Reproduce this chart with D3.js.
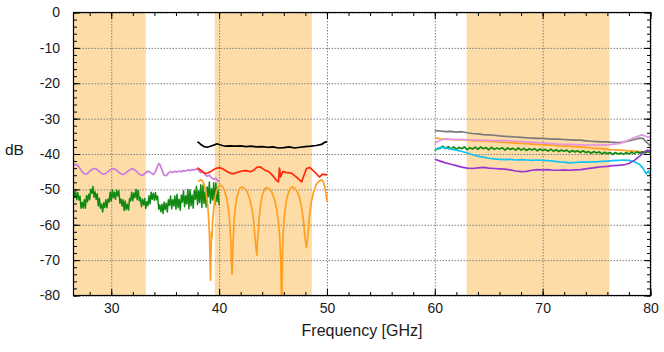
<!DOCTYPE html>
<html>
<head>
<meta charset="utf-8">
<script src="https://cdn.jsdelivr.net/npm/d3@7"></script>
<style>
body { margin: 0; background: #fff; }
svg { font-family: "Liberation Sans", Arial, sans-serif; }
</style>
</head>
<body>
<svg id="chart" width="664" height="352"></svg>
<script>
// axis ticks
var xTicks = [30, 40, 50, 60, 70, 80];
var yTicks = [0, -10, -20, -30, -40, -50, -60, -70, -80];
var xMinor = d3.range(28, 81, 2);
var yMinor = d3.range(-80, 1, 2);

// shaded frequency bands [GHz]
var bands = [[26.5, 33.2], [39.6, 48.6], [62.95, 76.2]];

// 26.5 - 40 GHz
var violetLow = [[26.5,-43.3],[26.7,-42.9],[26.9,-43.2],[27.1,-44.1],[27.3,-45.0],[27.5,-45.6],[27.7,-45.7],[27.9,-45.2],
  [28.1,-44.6],[28.3,-44.2],[28.5,-44.1],[28.7,-44.4],[28.9,-45.0],[29.1,-45.5],[29.3,-45.7],[29.5,-45.5],[29.7,-45.0],
  [29.9,-44.5],[30.1,-44.2],[30.3,-44.2],[30.5,-44.6],[30.7,-45.1],[30.9,-45.6],[31.1,-45.8],[31.3,-45.5],[31.5,-45.0],
  [31.7,-44.5],[31.9,-44.2],[32.1,-44.3],[32.3,-44.8],[32.5,-45.4],[32.7,-45.9],[32.9,-46.0],[33.1,-45.6],[33.3,-45.0],
  [33.5,-44.9],[33.7,-45.4],[33.9,-45.8],[34.1,-45.0],[34.3,-43.4],[34.4,-42.7],[34.5,-42.9],[34.7,-44.5],[34.9,-46.0],
  [35.1,-46.1],[35.3,-45.4],[35.5,-45.0],[35.7,-45.2],[35.9,-44.9],[36.1,-45.1],[36.3,-44.8],[36.5,-45.0],[36.7,-44.7],
  [36.9,-44.8],[37.1,-44.5],[37.3,-44.7],[37.5,-44.4],[37.7,-44.5],[37.9,-44.2],[38.1,-44.6],[38.3,-45.3],[38.5,-45.0],
  [38.7,-45.8],[38.9,-46.3],[39.1,-46.0],[39.3,-46.8],[39.5,-47.1],[39.7,-46.9],[39.9,-47.6],[40.0,-48.0]];

var greenLowStart = 26.5, greenLowStep = 0.1;
var greenLowDb = [-50.2,-52.2,-50.6,-52.9,-50.9,-53.0,-51.9,-55.3,-53.7,-55.3,-52.9,-55.3,-51.8,-53.5,-51.4,-52.9,
  -50.0,-51.1,-49.2,-52.2,-50.7,-52.8,-51.2,-54.7,-52.5,-55.3,-54.2,-56.4,-53.8,-55.1,-52.9,-55.2,-52.7,-53.6,
  -50.8,-53.3,-50.2,-52.4,-50.8,-52.8,-50.2,-51.8,-50.4,-53.9,-52.7,-54.7,-52.9,-56.0,-53.3,-55.7,-54.2,-55.8,
  -52.6,-53.3,-50.8,-53.2,-51.0,-52.3,-50.0,-52.9,-50.3,-53.2,-52.3,-54.9,-52.8,-54.4,-52.6,-55.4,-53.5,-54.6,
  -51.8,-54.1,-50.8,-52.8,-51.1,-53.1,-50.9,-52.9,-51.9,-55.6,-54.4,-56.3,-54.2,-56.8,-53.6,-55.7,-53.9,-56.4,
  -52.9,-54.5,-51.9,-55.5,-52.9,-54.7,-51.9,-55.6,-51.4,-55.2,-52.8,-55.9,-51.6,-53.6,-50.4,-54.9,-51.8,-54.1,
  -50.0,-55.5,-50.1,-54.6,-51.6,-55.3,-50.3,-52.8,-49.1,-54.3,-50.4,-53.7,-48.7,-55.1,-48.8,-54.0,-50.7,-55.0,
  -49.3,-52.1,-47.9,-53.9,-49.8,-53.0,-48.1,-54.4,-48.2,-53.4,-50.1,-54.5];

// 38 - 50 GHz
var blackMid = [[38.0,-36.5],[38.3,-37.3],[38.6,-37.9],[38.9,-38.1],[39.2,-37.8],[39.5,-37.5],[39.8,-37.1],[40.0,-37.3],
  [40.3,-37.6],[40.6,-37.8],[41.0,-37.7],[41.5,-37.8],[42.0,-37.7],[42.5,-37.9],[43.0,-37.8],[43.5,-38.0],[44.0,-37.9],
  [44.5,-38.1],[45.0,-38.0],[45.5,-38.3],[46.0,-38.2],[46.5,-38.0],[47.0,-38.3],[47.5,-38.1],[48.0,-37.9],[48.5,-37.8],
  [49.0,-37.6],[49.5,-37.3],[49.8,-36.7],[50.0,-36.5]];

var redMid = [[38.0,-43.9],[38.3,-44.6],[38.7,-45.5],[39.0,-45.3],[39.3,-44.8],[39.6,-44.2],[39.9,-43.9],[40.1,-43.9],
  [40.4,-44.3],[40.7,-44.9],[41.0,-45.4],[41.3,-45.6],[41.7,-45.2],[42.1,-44.8],[42.5,-44.7],[42.9,-45.0],[43.2,-44.6],
  [43.5,-43.8],[43.8,-43.6],[44.2,-44.5],[44.6,-45.0],[45.0,-46.2],[45.3,-47.4],[45.5,-47.9],[45.6,-44.0],[45.7,-46.5],
  [45.9,-45.0],[46.2,-45.2],[46.7,-45.4],[47.2,-46.6],[47.65,-47.9],[48.1,-44.1],[48.4,-43.8],[48.9,-45.2],[49.3,-46.5],
  [49.6,-45.7],[50.0,-45.9]];

var orangeMid = [[38.05,-47.8],[38.3,-47.3],[38.45,-47.6],[38.6,-48.5],[38.75,-50.3],[38.9,-53.3],[39.0,-56.6],
  [39.1,-62.5],[39.15,-68.5],[39.2,-75.7],[39.25,-68.0],[39.3,-62.0],[39.35,-63.5],[39.4,-59.0],[39.5,-55.5],
  [39.65,-51.8],[39.8,-50.1],[39.95,-49.1],[40.1,-48.8],[40.3,-49.2],[40.5,-50.3],[40.7,-52.5],[40.85,-55.2],
  [40.98,-59.0],[41.08,-64.2],[41.14,-70.2],[41.2,-74.0],[41.25,-70.5],[41.3,-64.5],[41.4,-58.6],[41.5,-55.3],
  [41.65,-52.3],[41.8,-50.6],[41.95,-49.6],[42.1,-49.3],[42.35,-49.7],[42.6,-50.7],[42.85,-52.8],[43.05,-55.6],
  [43.2,-58.9],[43.32,-63.2],[43.42,-66.5],[43.5,-68.6],[43.55,-65.0],[43.62,-62.8],[43.72,-58.0],[43.85,-54.3],
  [44.0,-51.8],[44.15,-50.4],[44.28,-49.7],[44.4,-49.5],[44.65,-49.9],[44.9,-50.9],[45.15,-53.0],[45.35,-55.8],
  [45.5,-59.1],[45.62,-63.4],[45.72,-70.5],[45.8,-86.0],[45.88,-67.3],[45.95,-61.9],[46.05,-57.6],[46.2,-53.9],
  [46.35,-51.7],[46.5,-50.3],[46.65,-49.6],[46.8,-49.3],[47.05,-49.7],[47.3,-51.0],[47.5,-52.9],[47.7,-56.0],
  [47.85,-59.8],[47.97,-64.0],[48.1,-66.5],[48.18,-64.5],[48.28,-61.2],[48.4,-56.9],[48.55,-53.6],[48.75,-50.8],
  [49.0,-48.7],[49.25,-47.7],[49.5,-47.3],[49.65,-47.8],[49.8,-49.3],[49.9,-51.0],[50.0,-53.5]];

// 60 - 80 GHz
var grayHigh = [[60.0,-33.4],[60.5,-33.5],[61.0,-33.7],[61.5,-33.6],[62.0,-33.8],[62.5,-33.7],[63.0,-34.0],[63.5,-34.2],
  [64.0,-34.3],[64.5,-34.5],[65.0,-34.6],[65.5,-34.7],[66.0,-34.9],[66.5,-35.0],[67.0,-35.1],[67.5,-35.2],[68.0,-35.3],
  [68.5,-35.4],[69.0,-35.5],[69.5,-35.6],[70.0,-35.6],[70.5,-35.7],[71.0,-35.8],[71.5,-35.8],[72.0,-35.9],[72.5,-36.0],
  [73.0,-36.1],[73.5,-36.1],[74.0,-36.3],[74.5,-36.4],[75.0,-36.5],[75.5,-36.6],[76.0,-36.6],[76.5,-36.7],[77.0,-36.8],
  [77.5,-36.6],[78.0,-36.3],[78.5,-35.9],[79.0,-35.5],[79.3,-35.6],[79.6,-36.6],[80.0,-37.7]];

var orangeHigh = [[60.0,-35.4],[60.5,-35.7],[61.0,-35.8],[61.5,-35.9],[62.0,-36.0],[62.5,-35.9],[63.0,-36.1],[63.5,-36.2],
  [64.0,-36.3],[64.5,-36.3],[65.0,-36.4],[65.5,-36.5],[66.0,-36.6],[66.5,-36.7],[67.0,-36.8],[67.5,-36.9],[68.0,-37.0],
  [68.5,-37.1],[69.0,-37.2],[69.5,-37.3],[70.0,-37.4],[70.5,-37.4],[71.0,-37.5],[71.5,-37.7],[72.0,-37.8],[72.5,-37.8],
  [73.0,-37.9],[73.5,-38.0],[74.0,-38.1],[74.5,-38.3],[75.0,-38.4],[75.5,-38.5],[76.0,-38.7],[76.5,-38.8],[77.0,-38.9],
  [77.5,-39.0],[78.0,-39.1],[78.5,-39.2],[79.0,-39.3],[79.5,-39.4],[80.0,-39.5]];

var pinkHigh = [[60.0,-37.0],[60.3,-36.4],[60.7,-35.9],[61.2,-35.8],[61.7,-35.9],[62.5,-35.9],[63.5,-36.0],[64.5,-36.1],
  [65.5,-36.2],[66.5,-36.2],[67.5,-36.4],[68.5,-36.6],[69.5,-36.8],[70.5,-37.0],[71.5,-37.2],[72.5,-37.3],[73.5,-37.4],
  [74.5,-37.5],[75.5,-37.5],[76.5,-37.3],[77.2,-37.0],[77.8,-36.3],[78.4,-35.5],[78.9,-34.9],[79.2,-34.6],[79.5,-34.9],
  [79.8,-35.3],[80.0,-35.0]];

var greenHighStart = 60, greenHighStep = 0.25;
var greenHighDb = [-39.1,-38.5,-38.4,-37.8,-38.5,-37.9,-38.6,-38.0,-38.7,-38.1,-38.5,-38.0,-38.8,-38.2,-38.6,-38.1,
  -38.7,-38.0,-38.5,-38.2,-38.8,-38.1,-38.7,-38.3,-38.6,-38.2,-38.9,-38.3,-38.7,-38.4,-38.9,-38.3,-38.9,-38.4,
  -39.0,-38.5,-38.9,-38.5,-39.1,-38.6,-39.0,-38.7,-39.2,-38.6,-39.2,-38.8,-39.3,-38.9,-39.2,-38.9,-39.5,-39.0,
  -39.4,-39.1,-39.6,-39.1,-39.6,-39.3,-39.8,-39.3,-39.7,-39.4,-40.0,-39.5,-39.9,-39.6,-40.1,-39.6,-40.0,-39.7,
  -40.1,-39.6,-40.0,-39.5,-39.9,-39.4,-39.8,-39.4,-39.7,-39.3,-39.6];

var cyanHigh = [[60.0,-38.9],[60.3,-38.4],[60.6,-38.1],[61.0,-38.3],[61.5,-38.6],[62.0,-38.9],[62.5,-39.3],[63.0,-39.7],
  [63.5,-40.2],[64.0,-40.6],[64.5,-40.9],[65.0,-41.2],[65.5,-41.4],[66.0,-41.5],[66.5,-41.6],[67.0,-41.5],[67.5,-41.7],
  [68.0,-41.6],[68.5,-41.7],[69.0,-41.8],[69.5,-41.7],[70.0,-41.8],[70.5,-41.9],[71.0,-42.0],[71.5,-42.2],[72.0,-42.3],
  [72.5,-42.5],[73.0,-42.4],[73.5,-42.3],[74.0,-42.3],[74.5,-42.2],[75.0,-42.2],[75.5,-42.1],[76.0,-42.0],[76.5,-41.9],
  [77.0,-41.8],[77.5,-41.7],[78.0,-41.8],[78.5,-42.2],[79.0,-43.0],[79.3,-44.0],[79.6,-45.6],[79.8,-44.8],[80.0,-46.0]];

var purpleHigh = [[60.0,-41.5],[60.5,-42.0],[61.0,-42.5],[61.5,-42.9],[62.0,-43.3],[62.5,-43.7],[63.0,-44.0],[63.5,-44.1],
  [64.0,-43.9],[64.5,-43.8],[65.0,-44.0],[65.5,-44.1],[66.0,-44.2],[66.5,-44.3],[67.0,-44.5],[67.5,-44.8],[68.0,-45.0],
  [68.5,-44.9],[69.0,-44.6],[69.5,-44.4],[70.0,-44.5],[70.5,-44.4],[71.0,-44.6],[71.5,-44.6],[72.0,-44.5],[72.5,-44.6],
  [73.0,-44.5],[73.5,-44.4],[74.0,-44.2],[74.5,-44.0],[75.0,-43.8],[75.5,-43.6],[76.0,-43.5],[76.5,-43.3],[77.0,-43.2],
  [77.5,-43.1],[78.0,-42.7],[78.5,-41.8],[79.0,-40.6],[79.4,-39.5],[79.7,-38.9],[80.0,-39.2]];

var plotLeft = 73.5, plotRight = 650.5, plotTop = 12.5, plotBottom = 295.5;
var plotW = plotRight - plotLeft, plotH = plotBottom - plotTop;

var svg = d3.select("#chart");
var x = d3.scaleLinear().domain([26.5, 80]).range([plotLeft, plotRight]);
var y = d3.scaleLinear().domain([-80, 0]).range([plotBottom, plotTop]);

function stepped(start, step, vals) {
    return vals.map(function(v, i) { return [start + i * step, v]; });
}

// bands
svg.append("g").selectAll("rect")
    .data(bands)
    .enter()
    .append("rect")
    .attr("x", d => x(d[0]))
    .attr("width", d => x(d[1]) - x(d[0]))
    .attr("y", plotTop)
    .attr("height", plotH)
    .attr("fill", "#fddca8");

// grid
svg.append("g")
    .attr("transform", "translate(0," + plotBottom + ")")
    .call(d3.axisBottom(x).tickValues(xTicks).tickSize(-plotH).tickFormat(""))
    .call(g => g.select(".domain").remove())
    .selectAll("line")
    .attr("stroke", "#808080")
    .attr("stroke-dasharray", "1.5,1.5");

svg.append("g")
    .attr("transform", "translate(" + plotLeft + ",0)")
    .call(d3.axisLeft(y).tickValues(yTicks).tickSize(-plotW).tickFormat(""))
    .call(g => g.select(".domain").remove())
    .selectAll("line")
    .attr("stroke", "#808080")
    .attr("stroke-dasharray", "1.5,1.5");

// lines
svg.append("clipPath").attr("id", "clip")
    .append("rect").attr("x", plotLeft).attr("y", plotTop).attr("width", plotW).attr("height", plotH);

var line = d3.line().x(d => x(d[0])).y(d => y(d[1]));
var series = [
    {data: violetLow, color: "#c97ddd", w: 1.7},
    {data: stepped(greenLowStart, greenLowStep, greenLowDb), color: "#128a12", w: 1.5},
    {data: blackMid, color: "#000000", w: 1.7},
    {data: redMid, color: "#ff2a0a", w: 1.7},
    {data: orangeMid, color: "#ffa020", w: 1.7},
    {data: grayHigh, color: "#7a7a7a", w: 1.7},
    {data: orangeHigh, color: "#ffa020", w: 1.7},
    {data: pinkHigh, color: "#e495e0", w: 1.7},
    {data: stepped(greenHighStart, greenHighStep, greenHighDb), color: "#128a12", w: 1.7},
    {data: cyanHigh, color: "#10c4f4", w: 1.7},
    {data: purpleHigh, color: "#9a36d0", w: 1.7}
];

svg.append("g").attr("clip-path", "url(#clip)")
    .selectAll("path")
    .data(series)
    .enter()
    .append("path")
    .attr("d", d => line(d.data))
    .attr("fill", "none")
    .attr("stroke", d => d.color)
    .attr("stroke-width", d => d.w)
    .attr("stroke-linejoin", "round");

// frame + ticks (inward, mirrored)
function tickAxis(axis, tr, values, size, labels) {
    var g = svg.append("g")
        .attr("transform", tr)
        .call(axis.tickValues(values).tickSize(-size).tickFormat(labels ? (d => String(d)) : ""));
    g.select(".domain").remove();
    g.selectAll("line").attr("stroke", "#000");
    return g;
}

tickAxis(d3.axisBottom(x), "translate(0," + plotBottom + ")", xMinor, 3.5, false);
tickAxis(d3.axisTop(x), "translate(0," + plotTop + ")", xMinor, 3.5, false);
tickAxis(d3.axisLeft(y), "translate(" + plotLeft + ",0)", yMinor, 3.5, false);
tickAxis(d3.axisRight(y), "translate(" + plotRight + ",0)", yMinor, 3.5, false);
tickAxis(d3.axisTop(x), "translate(0," + plotTop + ")", xTicks, 6.5, false);
tickAxis(d3.axisRight(y), "translate(" + plotRight + ",0)", yTicks, 6.5, false);

var xAx = tickAxis(d3.axisBottom(x).tickPadding(7.5), "translate(0," + plotBottom + ")", xTicks, 6.5, true);
var yAx = tickAxis(d3.axisLeft(y).tickPadding(13.5), "translate(" + plotLeft + ",0)", yTicks, 6.5, true);
[xAx, yAx].forEach(function(g) {
    g.selectAll("text")
        .attr("font-family", "Liberation Sans, Arial, sans-serif")
        .attr("font-size", 14)
        .attr("fill", "#1a1a1a");
});

svg.append("rect")
    .attr("x", plotLeft).attr("y", plotTop)
    .attr("width", plotW).attr("height", plotH)
    .attr("fill", "none")
    .attr("stroke", "#000")
    .attr("stroke-width", 1.2);

// axis titles
svg.append("text")
    .attr("x", 5).attr("y", 155)
    .attr("font-size", 15.5)
    .attr("fill", "#1a1a1a")
    .text("dB");

svg.append("text")
    .attr("x", (plotLeft + plotRight) / 2).attr("y", 336)
    .attr("text-anchor", "middle")
    .attr("font-size", 16)
    .attr("fill", "#1a1a1a")
    .text("Frequency [GHz]");
</script>
</body>
</html>
